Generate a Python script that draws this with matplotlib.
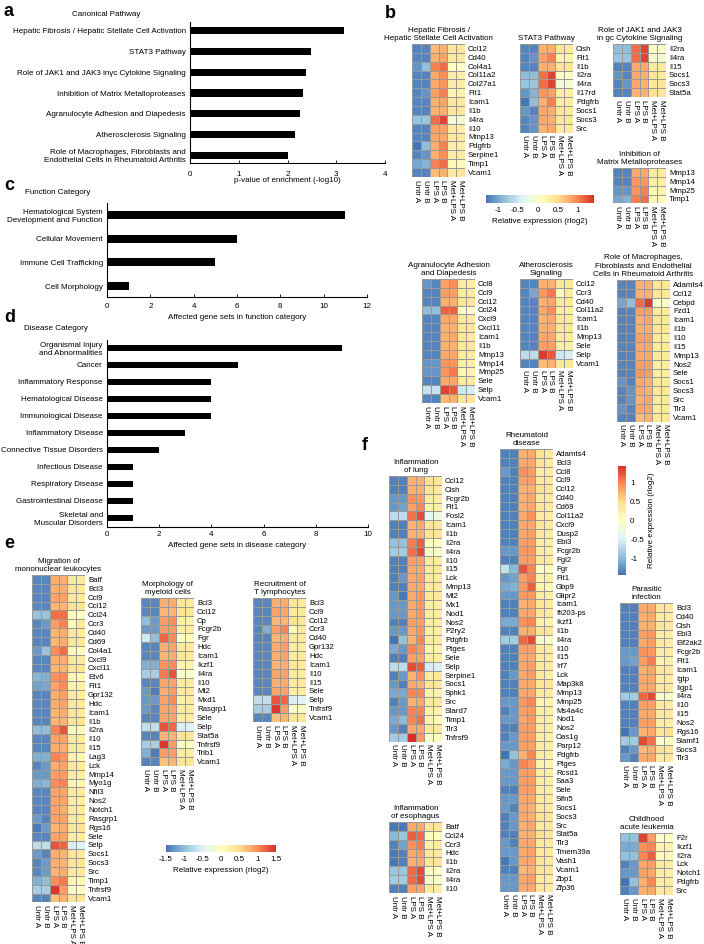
import numpy as np
import matplotlib.pyplot as plt
from matplotlib.colors import LinearSegmentedColormap, Normalize
from matplotlib.cm import ScalarMappable

plt.rcParams['font.family'] = ['Liberation Sans', 'DejaVu Sans']
plt.rcParams['font.size'] = 5.8
plt.rcParams['axes.unicode_minus'] = False

W, H = 704, 944

# ---------------- bar chart data ----------------
pathways = ["Hepatic Fibrosis / Hepatic Stellate Cell Activation", "STAT3 Pathway",
            "Role of JAK1 and JAK3 in\u03b3c Cytokine Signaling", "Inhibition of Matrix Metalloproteases",
            "Agranulocyte Adhesion and Diapedesis", "Atherosclerosis Signaling",
            "Role of Macrophages, Fibroblasts and\nEndothelial Cells in Rheumatoid Arthritis"]
pathway_pval = [3.15, 2.48, 2.38, 2.31, 2.26, 2.16, 2.02]

functions = ["Hematological System\nDevelopment and Function", "Cellular Movement",
             "Immune Cell Trafficking", "Cell Morphology"]
function_counts = [11, 6, 5, 1]

diseases = ["Organismal Injury\nand Abnormalities", "Cancer", "Inflammatory Response",
            "Hematological Disease", "Immunological Disease", "Inflammatory Disease",
            "Connective Tissue Disorders", "Infectious Disease", "Respiratory Disease",
            "Gastrointestinal Disease", "Skeletal and\nMuscular Disorders"]
disease_counts = [9, 5, 4, 4, 4, 3, 2, 1, 1, 1, 1]

samples = ["Untr A", "Untr B", "LPS A", "LPS B", "Met+LPS A", "Met+LPS B"]

# ---------------- heatmap data (relative expression, rlog2) ----------------
# panel b
hep_genes = ["Ccl12", "Cd40", "Col4a1", "Col11a2", "Col27a1", "Flt1", "Icam1", "Il1b", "Il4ra",
             "Il10", "Mmp13", "Pdgfrb", "Serpine1", "Timp1", "Vcam1"]
hep_vals = [[-1.2, -1.2, 0.7, 0.75, 0.4, 0.4],
            [-1.2, -1.2, 0.75, 0.8, 0.35, 0.35],
            [-1.1, -0.85, 1.0, 1.1, 0.05, 0.0],
            [-1.2, -1.2, 0.8, 0.95, 0.3, 0.3],
            [-1.2, -1.2, 0.8, 0.9, 0.3, 0.3],
            [-1.2, -1.1, 0.85, 1.0, 0.2, 0.25],
            [-1.2, -1.2, 0.75, 0.8, 0.4, 0.35],
            [-1.2, -1.2, 0.75, 0.75, 0.4, 0.4],
            [-0.8, -0.8, 1.1, 1.3, -0.1, -0.1],
            [-1.2, -1.2, 0.85, 0.85, 0.35, 0.3],
            [-1.2, -1.2, 0.8, 0.8, 0.35, 0.35],
            [-1.3, -0.85, 0.75, 1.0, 0.3, 0.3],
            [-1.2, -1.1, 0.75, 0.95, 0.3, 0.35],
            [-1.0, -0.92, 1.0, 1.1, 0.15, 0.1],
            [-1.2, -1.2, 0.7, 0.75, 0.4, 0.4]]

stat3_genes = ["Cish", "Flt1", "Il1b", "Il2ra", "Il4ra", "Il17rd", "Pdgfrb", "Socs1", "Socs3", "Src"]
stat3_vals = [[-1.2, -1.2, 0.75, 0.75, 0.4, 0.35],
              [-1.2, -1.1, 0.85, 1.0, 0.2, 0.25],
              [-1.2, -1.2, 0.75, 0.75, 0.4, 0.4],
              [-0.85, -0.85, 1.1, 1.3, 0.0, 0.0],
              [-0.8, -0.8, 1.1, 1.3, -0.1, -0.1],
              [-1.1, -0.92, 0.9, 0.85, 0.3, 0.3],
              [-1.3, -0.85, 0.75, 1.0, 0.3, 0.3],
              [-1.1, -1.2, 0.8, 0.75, 0.4, 0.35],
              [-1.2, -1.1, 0.8, 0.75, 0.4, 0.4],
              [-1.2, -1.1, 0.75, 0.8, 0.35, 0.35]]

jak_genes = ["Il2ra", "Il4ra", "Il15", "Socs1", "Socs3", "Stat5a"]
jak_vals = [[-0.85, -0.85, 1.1, 1.3, 0.0, 0.0],
            [-0.8, -0.8, 1.1, 1.3, -0.1, -0.1],
            [-1.2, -1.2, 0.8, 0.8, 0.35, 0.35],
            [-1.1, -1.2, 0.8, 0.75, 0.4, 0.35],
            [-1.2, -1.1, 0.8, 0.75, 0.4, 0.4],
            [-1.2, -1.2, 0.75, 0.75, 0.45, 0.4]]

mmp_genes = ["Mmp13", "Mmp14", "Mmp25", "Timp1"]
mmp_vals = [[-1.2, -1.2, 0.8, 0.8, 0.35, 0.35],
            [-1.2, -1.2, 0.9, 0.9, 0.3, 0.3],
            [-1.1, -1.1, 0.9, 1.0, 0.15, 0.2],
            [-1.0, -0.92, 1.0, 1.1, 0.15, 0.1]]

agr_genes = ["Ccl8", "Ccl9", "Ccl12", "Ccl24", "Cxcl9", "Cxcl11", "Icam1", "Il1b", "Mmp13",
             "Mmp14", "Mmp25", "Sele", "Selp", "Vcam1"]
agr_vals = [[-1.1, -1.2, 0.85, 0.95, 0.3, 0.3],
            [-1.2, -1.2, 0.85, 0.85, 0.35, 0.35],
            [-1.2, -1.2, 0.75, 0.75, 0.4, 0.4],
            [-0.85, -0.85, 1.15, 1.15, 0.0, 0.0],
            [-1.2, -1.2, 0.8, 0.8, 0.4, 0.35],
            [-1.2, -1.2, 0.75, 0.75, 0.4, 0.4],
            [-1.2, -1.2, 0.75, 0.8, 0.4, 0.35],
            [-1.2, -1.2, 0.75, 0.75, 0.4, 0.4],
            [-1.2, -1.2, 0.8, 0.8, 0.35, 0.35],
            [-1.1, -1.1, 0.9, 0.9, 0.3, 0.3],
            [-1.1, -1.1, 0.9, 1.05, 0.15, 0.2],
            [-1.2, -1.2, 0.8, 0.8, 0.35, 0.35],
            [-0.55, -0.55, 1.3, 1.2, -0.5, -0.45],
            [-1.2, -1.2, 0.7, 0.75, 0.4, 0.4]]

ath_genes = ["Ccl12", "Ccr3", "Cd40", "Col11a2", "Icam1", "Il1b", "Mmp13", "Sele", "Selp", "Vcam1"]
ath_vals = [[-1.2, -1.2, 0.75, 0.75, 0.4, 0.4],
            [-1.2, -1.0, 0.9, 1.05, 0.05, 0.35],
            [-1.2, -1.2, 0.75, 0.8, 0.35, 0.35],
            [-1.2, -1.2, 0.8, 0.95, 0.3, 0.3],
            [-1.2, -1.2, 0.75, 0.8, 0.4, 0.35],
            [-1.2, -1.2, 0.75, 0.75, 0.4, 0.4],
            [-1.2, -1.2, 0.8, 0.8, 0.35, 0.35],
            [-1.2, -1.2, 0.85, 0.85, 0.3, 0.3],
            [-0.6, -0.6, 1.35, 1.2, -0.5, -0.45],
            [-1.2, -1.2, 0.7, 0.75, 0.4, 0.4]]

mac_genes = ["Adamts4", "Ccl12", "Cebpd", "Fzd1", "Icam1", "Il1b", "Il10", "Il15", "Mmp13", "Nos2",
             "Sele", "Socs1", "Socs3", "Src", "Tlr3", "Vcam1"]
mac_vals = [[-1.2, -1.2, 0.75, 0.75, 0.4, 0.4],
            [-1.2, -1.2, 0.75, 0.75, 0.4, 0.4],
            [-1.0, -0.85, 1.1, 1.35, -0.05, -0.05],
            [-1.2, -1.2, 0.85, 0.85, 0.35, 0.35],
            [-1.2, -1.2, 0.75, 0.8, 0.4, 0.35],
            [-1.2, -1.2, 0.75, 0.75, 0.4, 0.4],
            [-1.2, -1.2, 0.85, 0.85, 0.35, 0.3],
            [-1.2, -1.2, 0.8, 0.8, 0.35, 0.35],
            [-1.2, -1.2, 0.8, 0.8, 0.35, 0.35],
            [-1.2, -1.2, 0.85, 0.85, 0.3, 0.3],
            [-1.2, -1.2, 0.9, 0.85, 0.3, 0.3],
            [-1.1, -1.2, 0.8, 0.75, 0.4, 0.35],
            [-1.2, -1.1, 0.8, 0.75, 0.4, 0.4],
            [-1.2, -1.1, 0.75, 0.8, 0.35, 0.35],
            [-1.1, -1.2, 0.8, 0.8, 0.35, 0.35],
            [-1.2, -1.2, 0.7, 0.75, 0.4, 0.4]]

# panel e
mig_genes = ["Batf", "Bcl3", "Ccl9", "Ccl12", "Ccl24", "Ccr3", "Cd40", "Cd69", "Col4a1", "Cxcl9",
             "Cxcl11", "Etv6", "Flt1", "Gpr132", "Hdc", "Icam1", "Il1b", "Il2ra", "Il10", "Il15",
             "Lag3", "Lck", "Mmp14", "Myo1g", "Nfil3", "Nos2", "Notch1", "Rasgrp1", "Rgs16", "Sele",
             "Selp", "Socs1", "Socs3", "Src", "Timp1", "Tnfrsf9", "Vcam1"]
mig_vals = [[-1.38, -1.38, 0.8, 0.8, 0.35, 0.35],
            [-1.38, -1.38, 0.8, 0.8, 0.4, 0.35],
            [-1.38, -1.38, 0.85, 0.85, 0.35, 0.35],
            [-1.38, -1.38, 0.75, 0.75, 0.45, 0.4],
            [-0.95, -0.95, 1.15, 1.15, 0.0, 0.0],
            [-1.38, -1.25, 0.9, 1.05, 0.05, 0.35],
            [-1.38, -1.38, 0.75, 0.8, 0.35, 0.35],
            [-1.38, -1.38, 0.75, 0.8, 0.4, 0.35],
            [-1.25, -0.95, 1.0, 1.15, 0.05, 0.0],
            [-1.38, -1.38, 0.8, 0.8, 0.4, 0.35],
            [-1.38, -1.38, 0.75, 0.75, 0.4, 0.4],
            [-1.05, -1.1, 0.95, 1.0, 0.15, 0.15],
            [-1.2, -1.15, 0.85, 1.0, 0.2, 0.25],
            [-1.38, -1.38, 0.8, 0.9, 0.3, 0.3],
            [-1.38, -1.38, 0.8, 0.85, 0.35, 0.35],
            [-1.38, -1.38, 0.75, 0.8, 0.4, 0.35],
            [-1.38, -1.38, 0.75, 0.75, 0.4, 0.4],
            [-1.0, -1.0, 1.05, 1.3, 0.05, 0.05],
            [-1.38, -1.38, 0.85, 0.85, 0.35, 0.3],
            [-1.38, -1.38, 0.8, 0.8, 0.35, 0.35],
            [-1.1, -1.1, 1.05, 0.95, 0.2, 0.15],
            [-1.38, -1.25, 0.8, 0.85, 0.35, 0.3],
            [-1.25, -1.25, 0.9, 0.9, 0.3, 0.3],
            [-1.1, -1.05, 1.0, 1.05, 0.15, 0.15],
            [-1.38, -1.38, 0.85, 0.85, 0.35, 0.35],
            [-1.38, -1.38, 0.85, 0.85, 0.3, 0.3],
            [-1.38, -1.38, 0.85, 0.8, 0.3, 0.3],
            [-1.25, -1.38, 0.85, 0.85, 0.35, 0.3],
            [-1.45, -1.25, 0.75, 0.8, 0.4, 0.45],
            [-1.38, -1.38, 0.85, 0.85, 0.3, 0.3],
            [-0.7, -0.7, 1.3, 1.2, -0.55, -0.5],
            [-1.25, -1.38, 0.8, 0.75, 0.4, 0.35],
            [-1.38, -1.25, 0.8, 0.75, 0.4, 0.4],
            [-1.38, -1.25, 0.75, 0.8, 0.35, 0.35],
            [-1.1, -1.0, 1.0, 1.1, 0.15, 0.1],
            [-0.85, -0.85, 1.45, 0.9, -0.1, 0.0],
            [-1.38, -1.38, 0.7, 0.75, 0.4, 0.4]]

mye_genes = ["Bcl3", "Ccl12", "Cp", "Fcgr2b", "Fgr", "Hdc", "Icam1", "Ikzf1", "Il4ra", "Il10", "Mt2",
             "Mxd1", "Rasgrp1", "Sele", "Selp", "Stat5a", "Tnfrsf9", "Trib1", "Vcam1"]
mye_vals = [[-1.38, -1.38, 0.8, 0.8, 0.4, 0.35],
            [-1.38, -1.38, 0.75, 0.75, 0.45, 0.4],
            [-1.0, -1.25, 0.9, 1.0, 0.25, 0.2],
            [-1.25, -1.25, 0.9, 0.9, 0.3, 0.3],
            [-0.6, -1.0, 1.2, 1.0, -0.1, 0.05],
            [-1.38, -1.38, 0.8, 0.85, 0.35, 0.35],
            [-1.38, -1.38, 0.75, 0.8, 0.4, 0.35],
            [-1.1, -1.1, 0.95, 1.0, 0.2, 0.2],
            [-0.85, -0.85, 1.1, 1.3, -0.1, -0.1],
            [-1.38, -1.38, 0.85, 0.85, 0.35, 0.3],
            [-1.25, -1.45, 0.8, 0.9, 0.35, 0.35],
            [-1.25, -1.25, 0.85, 1.0, 0.25, 0.3],
            [-1.25, -1.38, 0.85, 0.85, 0.35, 0.3],
            [-1.38, -1.38, 0.85, 0.85, 0.3, 0.3],
            [-0.7, -0.7, 1.3, 1.2, -0.55, -0.5],
            [-1.38, -1.38, 0.75, 0.75, 0.45, 0.4],
            [-0.85, -0.85, 1.45, 0.9, -0.1, 0.0],
            [-1.1, -1.45, 0.9, 0.9, 0.3, 0.3],
            [-1.38, -1.38, 0.7, 0.75, 0.4, 0.4]]

tly_genes = ["Bcl3", "Ccl9", "Ccl12", "Ccr3", "Cd40", "Gpr132", "Hdc", "Icam1", "Il10", "Il15",
             "Sele", "Selp", "Tnfrsf9", "Vcam1"]
tly_vals = [[-1.38, -1.38, 0.8, 0.8, 0.4, 0.35],
            [-1.38, -1.38, 0.85, 0.85, 0.35, 0.35],
            [-1.38, -1.38, 0.75, 0.75, 0.45, 0.4],
            [-1.38, -1.1, 0.9, 1.05, 0.05, 0.35],
            [-1.38, -1.38, 0.75, 0.8, 0.35, 0.35],
            [-1.38, -1.38, 0.8, 0.9, 0.3, 0.3],
            [-1.38, -1.38, 0.8, 0.85, 0.35, 0.35],
            [-1.38, -1.38, 0.75, 0.8, 0.4, 0.35],
            [-1.38, -1.38, 0.85, 0.85, 0.35, 0.3],
            [-1.38, -1.38, 0.8, 0.8, 0.35, 0.35],
            [-1.38, -1.38, 0.85, 0.85, 0.3, 0.3],
            [-0.7, -0.7, 1.3, 1.2, -0.55, -0.5],
            [-0.85, -0.85, 1.45, 0.9, -0.1, 0.0],
            [-1.38, -1.38, 0.7, 0.75, 0.4, 0.4]]

# panel f
lung_genes = ["Ccl12", "Cish", "Fcgr2b", "Flt1", "Fosl2", "Icam1", "Il1b", "Il2ra", "Il4ra", "Il10",
              "Il15", "Lck", "Mmp13", "Mt2", "Mx1", "Nod1", "Nos2", "P2ry2", "Pdgfrb", "Ptges",
              "Sele", "Selp", "Serpine1", "Socs1", "Sphk1", "Src", "Stard7", "Timp1", "Tlr3", "Tnfrsf9"]
lung_vals = [[-1.36, -1.36, 0.75, 0.75, 0.45, 0.4],
             [-1.36, -1.36, 0.75, 0.75, 0.4, 0.35],
             [-1.22, -1.22, 0.95, 0.9, 0.3, 0.3],
             [-1.22, -1.15, 0.85, 1.0, 0.2, 0.25],
             [-0.7, -0.7, 1.1, 1.3, -0.4, -0.3],
             [-1.36, -1.36, 0.75, 0.8, 0.4, 0.35],
             [-1.36, -1.36, 0.75, 0.75, 0.4, 0.4],
             [-0.95, -0.95, 1.05, 1.2, 0.0, 0.0],
             [-0.85, -0.85, 1.1, 1.3, -0.1, -0.1],
             [-1.36, -1.36, 0.85, 0.85, 0.35, 0.3],
             [-1.36, -1.36, 0.8, 0.8, 0.35, 0.35],
             [-1.36, -1.22, 0.8, 0.85, 0.35, 0.3],
             [-1.36, -1.36, 0.8, 0.8, 0.35, 0.35],
             [-1.22, -1.42, 0.8, 0.9, 0.35, 0.35],
             [-1.22, -1.22, 0.8, 0.9, 0.3, 0.3],
             [-1.22, -1.22, 0.8, 0.9, 0.3, 0.3],
             [-1.36, -1.36, 0.85, 0.85, 0.3, 0.3],
             [-1.22, -1.22, 0.8, 0.9, 0.3, 0.3],
             [-1.45, -0.95, 0.75, 1.0, 0.3, 0.3],
             [-1.1, -1.22, 1.0, 0.9, 0.2, 0.2],
             [-1.36, -1.36, 0.85, 0.85, 0.3, 0.3],
             [-0.7, -0.7, 1.3, 1.2, -0.55, -0.5],
             [-1.36, -1.22, 0.75, 0.95, 0.3, 0.35],
             [-1.22, -1.36, 0.8, 0.75, 0.4, 0.35],
             [-1.1, -1.1, 1.0, 1.0, 0.2, 0.2],
             [-1.36, -1.22, 0.75, 0.8, 0.35, 0.35],
             [-1.22, -1.22, 1.0, 1.0, 0.2, 0.2],
             [-1.1, -1.0, 1.0, 1.1, 0.15, 0.1],
             [-1.22, -1.36, 0.8, 0.8, 0.35, 0.35],
             [-0.85, -0.85, 1.45, 0.9, -0.1, 0.0]]

eso_genes = ["Batf", "Ccl24", "Ccr3", "Hdc", "Il1b", "Il2ra", "Il4ra", "Il10"]
eso_vals = [[-1.42, -1.42, 0.8, 0.8, 0.4, 0.4],
            [-1.0, -0.9, 1.2, 1.15, 0.0, -0.05],
            [-1.36, -1.15, 0.95, 1.05, 0.2, 0.3],
            [-1.42, -1.36, 0.8, 0.85, 0.35, 0.35],
            [-1.42, -1.36, 0.75, 0.8, 0.4, 0.4],
            [-0.9, -0.9, 1.15, 1.3, -0.05, -0.05],
            [-0.85, -0.85, 1.15, 1.3, -0.1, -0.1],
            [-1.36, -1.36, 0.85, 0.85, 0.35, 0.3]]

rhe_genes = ["Adamts4", "Bcl3", "Ccl8", "Ccl9", "Ccl12", "Cd40", "Cd69", "Col11a2", "Cxcl9", "Dusp2",
             "Ebi3", "Fcgr2b", "Fgl2", "Fgr", "Flt1", "Gbp9", "Glipr2", "Icam1", "Ifi203-ps", "Ikzf1",
             "Il1b", "Il4ra", "Il10", "Il15", "Irf7", "Lck", "Map3k8", "Mmp13", "Mmp25", "Ms4a4c",
             "Nod1", "Nos2", "Oas1g", "Parp12", "Pdgfrb", "Ptges", "Rcsd1", "Saa3", "Sele", "Slfn5",
             "Socs1", "Socs3", "Src", "Stat5a", "Tlr3", "Tmem39a", "Vash1", "Vcam1", "Zbp1", "Zfp36"]
rhe_vals = [[-1.36, -1.36, 0.75, 0.8, 0.4, 0.35],
            [-1.36, -1.36, 0.8, 0.8, 0.4, 0.35],
            [-1.22, -1.36, 0.95, 0.85, 0.3, 0.3],
            [-1.36, -1.36, 0.85, 0.85, 0.35, 0.35],
            [-1.36, -1.36, 0.75, 0.75, 0.45, 0.4],
            [-1.36, -1.36, 0.75, 0.8, 0.35, 0.35],
            [-1.36, -1.36, 0.75, 0.8, 0.4, 0.35],
            [-1.36, -1.36, 0.8, 0.95, 0.3, 0.3],
            [-1.36, -1.36, 0.8, 0.8, 0.4, 0.35],
            [-1.36, -1.36, 0.8, 0.85, 0.35, 0.3],
            [-1.36, -1.36, 0.85, 0.85, 0.3, 0.3],
            [-1.22, -1.22, 0.9, 0.9, 0.3, 0.3],
            [-1.36, -1.36, 0.85, 0.85, 0.35, 0.35],
            [-0.65, -1.0, 1.25, 1.0, -0.1, 0.05],
            [-1.22, -1.15, 0.85, 1.0, 0.2, 0.25],
            [-1.1, -1.05, 0.9, 1.2, 0.2, 0.1],
            [-1.22, -1.22, 0.9, 0.9, 0.3, 0.3],
            [-1.36, -1.36, 0.75, 0.8, 0.4, 0.35],
            [-1.36, -1.36, 0.8, 0.8, 0.4, 0.35],
            [-1.1, -1.1, 0.95, 1.0, 0.2, 0.2],
            [-1.36, -1.36, 0.75, 0.75, 0.4, 0.4],
            [-0.85, -0.85, 1.15, 1.3, -0.1, -0.1],
            [-1.36, -1.36, 0.85, 0.85, 0.35, 0.3],
            [-1.36, -1.36, 0.8, 0.8, 0.35, 0.35],
            [-1.36, -1.36, 0.8, 0.85, 0.35, 0.35],
            [-1.36, -1.22, 0.8, 0.85, 0.35, 0.3],
            [-1.36, -1.36, 0.8, 0.8, 0.4, 0.4],
            [-1.36, -1.36, 0.8, 0.8, 0.35, 0.35],
            [-1.22, -1.22, 0.9, 1.0, 0.15, 0.2],
            [-1.36, -1.22, 0.85, 0.9, 0.3, 0.3],
            [-1.22, -1.22, 0.8, 0.9, 0.3, 0.3],
            [-1.36, -1.36, 0.85, 0.85, 0.3, 0.3],
            [-1.36, -1.22, 0.85, 0.85, 0.3, 0.3],
            [-1.22, -1.22, 0.85, 0.85, 0.3, 0.3],
            [-1.45, -0.95, 0.75, 1.0, 0.3, 0.3],
            [-1.1, -1.22, 1.0, 0.9, 0.2, 0.2],
            [-1.22, -1.22, 0.85, 0.85, 0.3, 0.3],
            [-1.22, -1.22, 0.85, 0.85, 0.3, 0.3],
            [-1.36, -1.36, 0.85, 0.85, 0.3, 0.3],
            [-1.22, -1.22, 0.8, 0.8, 0.35, 0.35],
            [-1.22, -1.36, 0.8, 0.75, 0.4, 0.35],
            [-1.36, -1.22, 0.8, 0.75, 0.45, 0.4],
            [-1.36, -1.22, 0.75, 0.8, 0.35, 0.35],
            [-1.36, -1.36, 0.75, 0.75, 0.45, 0.4],
            [-1.22, -1.36, 0.8, 0.8, 0.35, 0.35],
            [-1.22, -1.22, 0.8, 0.85, 0.35, 0.35],
            [-1.42, -1.22, 0.8, 0.8, 0.4, 0.35],
            [-1.36, -1.36, 0.7, 0.75, 0.4, 0.4],
            [-1.22, -1.22, 0.8, 0.85, 0.35, 0.3],
            [-1.22, -1.22, 0.8, 0.8, 0.4, 0.35]]

par_genes = ["Bcl3", "Cd40", "Cish", "Ebi3", "Eif2ak2", "Fcgr2b", "Flt1", "Icam1", "Igtp", "Iigp1",
             "Il4ra", "Il10", "Il15", "Nos2", "Rgs16", "Slamf1", "Socs3", "Tlr3"]
par_vals = [[-1.36, -1.36, 0.8, 0.8, 0.4, 0.35],
            [-1.36, -1.36, 0.75, 0.8, 0.35, 0.35],
            [-1.36, -1.36, 0.75, 0.75, 0.4, 0.35],
            [-1.36, -1.36, 0.85, 0.9, 0.3, 0.3],
            [-1.36, -1.36, 0.8, 0.85, 0.35, 0.3],
            [-1.22, -1.22, 0.95, 0.9, 0.3, 0.3],
            [-1.22, -1.15, 0.85, 1.05, 0.2, 0.25],
            [-1.36, -1.36, 0.75, 0.8, 0.4, 0.35],
            [-1.36, -1.36, 0.8, 0.8, 0.35, 0.35],
            [-1.36, -1.36, 0.8, 0.8, 0.35, 0.35],
            [-0.85, -0.85, 1.15, 1.3, -0.1, -0.1],
            [-1.36, -1.36, 0.85, 0.85, 0.35, 0.3],
            [-1.36, -1.36, 0.8, 0.8, 0.35, 0.35],
            [-1.36, -1.36, 0.85, 0.85, 0.3, 0.3],
            [-1.45, -1.22, 0.75, 0.8, 0.4, 0.45],
            [-0.85, -0.85, 1.3, 1.1, -0.1, 0.0],
            [-1.36, -1.22, 0.7, 0.75, 0.45, 0.4],
            [-1.22, -1.36, 0.8, 0.8, 0.35, 0.35]]

leu_genes = ["F2r", "Ikzf1", "Il2ra", "Lck", "Notch1", "Pdgfrb", "Src"]
leu_vals = [[-0.95, -0.95, 1.35, 0.85, -0.1, 0.0],
            [-1.1, -1.1, 0.95, 1.0, 0.2, 0.2],
            [-0.95, -0.95, 1.0, 1.2, 0.1, 0.1],
            [-1.36, -1.22, 0.8, 0.85, 0.35, 0.3],
            [-1.22, -1.22, 0.85, 0.8, 0.3, 0.3],
            [-1.45, -0.95, 0.75, 1.0, 0.3, 0.3],
            [-1.36, -1.22, 0.75, 0.8, 0.35, 0.35]]

# pheatmap default palette
cmap = LinearSegmentedColormap.from_list(
    "pheat", ["#4575B4", "#91BFDB", "#E0F3F8", "#FFFFBF", "#FEE090", "#FC8D59", "#D73027"])
norm_b = Normalize(-1.3, 1.4)
norm_e = Normalize(-1.5, 1.5)
norm_f = Normalize(-1.45, 1.45)

fig = plt.figure(figsize=(W / 100, H / 100), dpi=100)


def px_axes(x0, y0, x1, y1):
    return fig.add_axes([x0 / W, 1 - y1 / H, (x1 - x0) / W, (y1 - y0) / H])


ROW = 8.85


def heatmap(x0, y0, title, genes, vals, norm):
    n = len(genes)
    ax = px_axes(x0, y0, x0 + 6 * ROW, y0 + n * ROW)
    ax.pcolormesh(np.array(vals), cmap=cmap, norm=norm, edgecolors="#999999", linewidth=0.5)
    ax.set_xlim(0, 6)
    ax.set_ylim(n, 0)
    ax.set_xticks(np.arange(6) + 0.5)
    ax.set_xticklabels(samples, rotation=-90, fontsize=5.8)
    ax.yaxis.tick_right()
    ax.set_yticks(np.arange(n) + 0.5)
    ax.set_yticklabels(genes, fontsize=5.6)
    ax.tick_params(length=0, pad=2)
    for s in ax.spines.values():
        s.set_visible(False)
    ax.set_title(title, fontsize=5.8, pad=3, linespacing=1.25)
    return ax


def barh(box, labels, values, xlim, xticks, xlabel, tick_pad, label_pad, ypos, hgt):
    ax = px_axes(*box)
    y = np.arange(len(labels))
    ax.barh(y, values, height=hgt, color="black")
    ax.set_ylim(ypos[1], ypos[0])
    ax.set_xlim(*xlim)
    ax.set_xticks(xticks)
    ax.set_yticks(y)
    ax.set_yticklabels(labels, fontsize=5.8)
    ax.set_xlabel(xlabel, fontsize=5.8, labelpad=label_pad)
    ax.tick_params(axis="y", length=0, pad=3)
    ax.tick_params(axis="x", length=2, width=0.6, direction="in", pad=tick_pad, labelsize=5.8)
    ax.spines["top"].set_visible(False)
    ax.spines["right"].set_visible(False)
    ax.spines["left"].set_linewidth(0.8)
    ax.spines["bottom"].set_linewidth(0.8)
    return ax


# ---------------- panel a, c, d ----------------
barh((190, 22, 385, 163), pathways, pathway_pval, (0, 4), [0, 1, 2, 3, 4],
     "p-value of enrichment (-log10)", 6, -1, (-0.43, 6.38), 0.34)
fig.text(72 / W, 1 - 15 / H, "Canonical Pathway", fontsize=5.8, va="center")

barh((107, 203, 367, 297), functions, function_counts, (0, 12), range(0, 13, 2),
     "Affected gene sets in function category", 4.3, 3, (-0.51, 3.46), 0.34)
fig.text(25 / W, 1 - 193 / H, "Function Category", fontsize=5.8, va="center")

barh((107, 340, 368, 527), diseases, disease_counts, (0, 10), range(0, 11, 2),
     "Affected gene sets in disease category", 3, 3, (-0.47, 10.53), 0.36)
fig.text(24 / W, 1 - 328 / H, "Disease Category", fontsize=5.8, va="center")

# ---------------- panel b ----------------
heatmap(412, 44, "Hepatic Fibrosis /\nHepatic Stellate Cell Activation", hep_genes, hep_vals, norm_b)
heatmap(520, 44, "STAT3 Pathway", stat3_genes, stat3_vals, norm_b)
heatmap(613, 44, "Role of JAK1 and JAK3\nin gc Cytokine Signaling", jak_genes, jak_vals, norm_b)
heatmap(613, 168, "Inhibition of\nMatrix Metalloproteases", mmp_genes, mmp_vals, norm_b)
heatmap(422, 279, "Agranulocyte Adhesion\nand Diapedesis", agr_genes, agr_vals, norm_b)
heatmap(520, 279, "Atherosclerosis\nSignaling", ath_genes, ath_vals, norm_b)
heatmap(617, 280, "Role of Macrophages,\nFibroblasts and Endothelial\nCells in Rheumatoid Arthritis",
        mac_genes, mac_vals, norm_b)

cax = px_axes(486, 195, 594, 203)
cb = fig.colorbar(ScalarMappable(norm_b, cmap), cax=cax, orientation="horizontal")
cb.set_ticks([-1, -0.5, 0, 0.5, 1])
cb.set_ticklabels(["-1", "-0.5", "0", "0.5", "1"])
cb.outline.set_visible(False)
cax.tick_params(length=0, labelsize=5.8, pad=3)
cb.set_label("Relative expression (rlog2)", fontsize=5.8, labelpad=3)

# ---------------- panel e ----------------
heatmap(32, 575, "Migration of\nmononuclear leukocytes", mig_genes, mig_vals, norm_e)
heatmap(141, 598, "Morphology of\nmyeloid cells", mye_genes, mye_vals, norm_e)
heatmap(253, 598, "Recruitment of\nT lymphocytes", tly_genes, tly_vals, norm_e)

cax = px_axes(166, 845, 276, 852)
cb = fig.colorbar(ScalarMappable(norm_e, cmap), cax=cax, orientation="horizontal")
cb.set_ticks([-1.5, -1, -0.5, 0, 0.5, 1, 1.5])
cb.set_ticklabels(["-1.5", "-1", "-0.5", "0", "0.5", "1", "1.5"])
cb.outline.set_visible(False)
cax.tick_params(length=0, labelsize=5.8, pad=3)
cb.set_label("Relative expression (rlog2)", fontsize=5.8, labelpad=3)

# ---------------- panel f ----------------
heatmap(389, 476, "Inflammation\nof lung", lung_genes, lung_vals, norm_f)
heatmap(389, 822, "Inflammation\nof esophagus", eso_genes, eso_vals, norm_f)
heatmap(500, 449, "Rheumatoid\ndisease", rhe_genes, rhe_vals, norm_f)
heatmap(620, 603, "Parasitic\ninfection", par_genes, par_vals, norm_f)
heatmap(620, 833, "Childhood\nacute leukemia", leu_genes, leu_vals, norm_f)

cax = px_axes(618, 466, 626, 575)
cb = fig.colorbar(ScalarMappable(norm_f, cmap), cax=cax, orientation="vertical")
cb.set_ticks([-1, -0.5, 0, 0.5, 1])
cb.set_ticklabels(["-1", "-0.5", "0", "0.5", "1"])
cb.outline.set_visible(False)
cax.tick_params(length=0, labelsize=5.8, pad=3)
cb.set_label("Relative expression (rlog2)", fontsize=5.8, labelpad=3)

# ---------------- panel letters ----------------
for letter, x, y in [("a", 4, 11), ("b", 385, 13), ("c", 4, 186), ("d", 4, 318),
                     ("e", 4, 543), ("f", 362, 445)]:
    fig.text(x / W, 1 - y / H, letter, fontsize=13, fontweight="bold", va="center")

fig.savefig("out.png", dpi=100)
